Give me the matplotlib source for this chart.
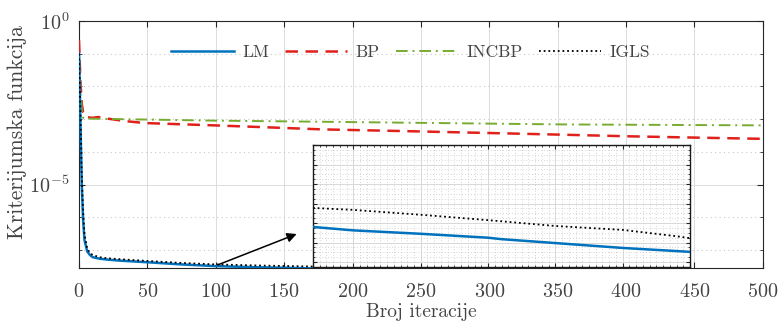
import numpy as np
import matplotlib
matplotlib.use("Agg")
import matplotlib.pyplot as plt
from matplotlib.ticker import FixedLocator, NullFormatter, LogFormatterSciNotation, MultipleLocator

plt.rcParams['font.family'] = ['cmr10', 'DejaVu Serif']
plt.rcParams['mathtext.fontset'] = 'cm'
plt.rcParams['axes.formatter.use_mathtext'] = True

# ---- data ----
lm_x = [0, 1, 2, 3, 4, 6, 8, 10, 15, 20, 30, 50, 75, 100, 130, 150, 170,
        200, 250, 300, 310, 320, 350, 400, 450, 500]
lm_y = [1.0e-1, 1.0e-3, 1.0e-5, 8e-7, 2e-7, 9e-8, 7e-8, 6e-8, 5.4e-8, 5.1e-8,
        4.7e-8, 4.2e-8, 3.6e-8, 3.2e-8, 2.95e-8, 2.85e-8, 2.72e-8,
        2.65e-8, 2.58e-8, 2.50e-8, 2.47e-8, 2.45e-8, 2.39e-8, 2.29e-8, 2.21e-8, 2.14e-8]

igls_x = [0, 1, 2, 3, 4, 6, 8, 10, 15, 20, 30, 50, 75, 100, 130, 170,
          200, 250, 300, 350, 400, 440, 450, 500]
igls_y = [1.0e-1, 2e-3, 2e-5, 1.5e-6, 3e-7, 1.1e-7, 8e-8, 7e-8, 6e-8, 5.6e-8,
          5.2e-8, 4.6e-8, 4.0e-8, 3.6e-8, 3.35e-8, 3.11e-8,
          3.07e-8, 2.97e-8, 2.86e-8, 2.74e-8, 2.66e-8, 2.53e-8, 2.49e-8, 2.4e-8]

bp_x = [0, 1, 2, 3, 5, 10, 14, 20, 34, 48, 99, 134, 178, 239, 302, 353, 400, 450, 500]
bp_y = [2.6e-1, 1.5e-2, 3e-3, 1.6e-3, 1.15e-3, 1.1e-3, 1.16e-3, 1.05e-3, 8.7e-4,
        7.6e-4, 6.45e-4, 5.7e-4, 4.86e-4, 4.3e-4, 3.75e-4, 3.35e-4, 3.0e-4, 2.73e-4, 2.5e-4]

incbp_x = [0, 1, 2, 3, 5, 100, 180, 250, 353, 500]
incbp_y = [1.0e-1, 8e-3, 2e-3, 1.1e-3, 1.04e-3, 9.0e-4, 8.3e-4, 7.7e-4, 6.9e-4, 6.45e-4]

x_ticks = [0, 50, 100, 150, 200, 250, 300, 350, 400, 450, 500]
y_major = [1e-5, 1e0]
y_minor = [1e-7, 1e-6, 1e-4, 1e-3, 1e-2, 1e-1]

labels = ['LM', 'BP', 'INCBP', 'IGLS']
colors = ['#0072BD', '#E0201B', '#77AC30', '#000000']

inset_xlim = (170, 450)
inset_ylim = (1.9e-8, 4.4e-8)

# ---- figure ----
fig = plt.figure(figsize=(7.8, 3.24), dpi=100)
ax = fig.add_axes([0.1013, 0.1728, 0.8767, 0.7622])


def draw(a, lw_scale=1.0):
    a.plot(lm_x, lm_y, color=colors[0], lw=1.8 * lw_scale, label=labels[0], zorder=4)
    a.plot(bp_x, bp_y, color=colors[1], lw=1.8 * lw_scale, ls=(0, (5, 3)), label=labels[1], zorder=3)
    a.plot(incbp_x, incbp_y, color=colors[2], lw=1.4 * lw_scale, ls=(0, (6, 2.5, 1, 2.5)),
           label=labels[2], zorder=3)
    a.plot(igls_x, igls_y, color=colors[3], lw=1.3 * lw_scale, ls=(0, (1, 1.6)), label=labels[3], zorder=5)


draw(ax)
ax.set_yscale('log')
ax.set_xlim(0, 500)
ax.set_ylim(2.8e-8, 1.0)
ax.xaxis.set_major_locator(FixedLocator(x_ticks))
ax.yaxis.set_major_locator(FixedLocator(y_major))
ax.yaxis.set_major_formatter(LogFormatterSciNotation())
ax.yaxis.set_minor_locator(FixedLocator(y_minor))
ax.yaxis.set_minor_formatter(NullFormatter())
ax.tick_params(which='both', direction='in', top=True, right=True, color='#262626')
ax.tick_params(which='major', length=4, labelcolor='#444444')
ax.tick_params(axis='x', which='major', labelsize=14.5, pad=11)
ax.tick_params(axis='y', which='major', labelsize=14.5, pad=7)
ax.tick_params(which='minor', length=2.5)
ax.grid(True, which='major', color='#dcdcdc', lw=0.7, ls='-')
ax.grid(True, which='minor', axis='y', color='#c8c8c8', lw=0.8, ls=(0, (1, 3)))
for s in ax.spines.values():
    s.set_color('#262626')
    s.set_linewidth(0.8)
ax.set_xlabel('Broj iteracije', fontsize=14, color='#444444', labelpad=1)
ax.set_ylabel('Kriterijumska funkcija', fontsize=15.5, color='#444444', labelpad=0)
ax.yaxis.set_label_coords(-0.076, 0.55)

leg = ax.legend(loc='center', bbox_to_anchor=(0.485, 0.874), ncol=4, frameon=False,
                fontsize=12.5, handlelength=3.6, handletextpad=0.5, columnspacing=0.9,
                borderaxespad=0)
for t in leg.get_texts():
    t.set_color('#444444')

# arrow
ax.annotate('', xy=(161, 3.3e-7), xytext=(100, 3.3e-8),
            arrowprops=dict(arrowstyle='-|>', color='black', lw=1.1, mutation_scale=14),
            zorder=6)

# ---- inset ----
axi = fig.add_axes([0.4013, 0.176, 0.4833, 0.3765])
axi.set_facecolor('white')
draw(axi)
axi.set_xlim(*inset_xlim)
axi.set_ylim(*inset_ylim)
axi.xaxis.set_major_locator(MultipleLocator(50))
axi.xaxis.set_minor_locator(MultipleLocator(5))
axi.yaxis.set_major_locator(MultipleLocator(0.4e-8))
axi.yaxis.set_minor_locator(MultipleLocator(0.1e-8))
axi.set_xticklabels([])
axi.set_yticklabels([])
axi.tick_params(which='both', direction='in', top=True, right=True, color='#262626')
axi.tick_params(which='major', length=3)
axi.tick_params(which='minor', length=1.5)
axi.grid(True, which='major', color='#d8d8d8', lw=0.7, ls='-')
axi.grid(True, which='minor', color='#c8c8c8', lw=0.6, ls=(0, (1, 2.5)))
for s in axi.spines.values():
    s.set_color('#1a1a1a')
    s.set_linewidth(1.0)

fig.savefig('out.png', dpi=100)
